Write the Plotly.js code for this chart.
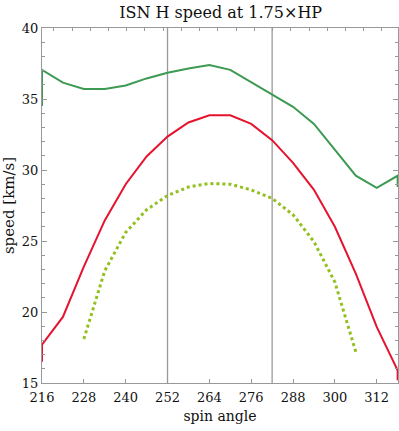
<!DOCTYPE html>
<html>
<head>
<meta charset="utf-8">
<script src="https://cdn.plot.ly/plotly-3.0.1.min.js"></script>
<style>html,body{margin:0;padding:0;background:#fff}#chart{width:399px;height:431px}</style>
</head>
<body>
<div id="chart"></div>
<script>
// spin angle samples (degrees)
const angle = [216,222,228,234,240,246,252,258,264,270,276,282,288,294,300,306,312,318];
// upper (green) speed curve, km/s
const speedUpper = [37.05,36.15,35.7,35.7,35.95,36.45,36.85,37.15,37.4,37.05,36.2,35.3,34.45,33.25,31.45,29.6,28.75,29.6];
// middle (red) speed curve, km/s
const speedMid = [17.7,19.65,23.2,26.45,29.0,30.95,32.35,33.35,33.85,33.85,33.25,32.1,30.5,28.6,26.0,22.7,18.95,15.9];
// lower (dotted) curve angles and speeds
const angleLow = [228,234,240,246,252,258,264,270,276,282,288,294,300,306];
const speedLow = [18.1,22.9,25.6,27.2,28.2,28.8,29.05,29.0,28.6,28.0,26.85,24.95,22.1,17.2];
// values drawn at the frame edges (wrap-around segments)
const upperEdge = [34.5, 28.8];
const midEdge = [16.5, 15.2];
// vertical reference lines
const refAngles = [252, 282];
// tick labels
const xTicks = [216,228,240,252,264,276,288,300,312];
const yTicks = [15,20,25,30,35,40];

const FONT = 'DejaVu Serif, serif';
const x0 = angle[0], x1 = angle[angle.length-1];

const traces = [
  {x:[x0, ...angle, x1], y:[upperEdge[0], ...speedUpper, upperEdge[1]], mode:'lines',
   line:{color:'#3d9a52', width:2}, hoverinfo:'skip'},
  {x:[x0, ...angle, x1], y:[midEdge[0], ...speedMid, midEdge[1]], mode:'lines',
   line:{color:'#e5132e', width:2}, hoverinfo:'skip'},
  {x:angleLow, y:speedLow, mode:'lines',
   line:{color:'#92c01e', width:3, dash:'dot'}, hoverinfo:'skip'},
  {x:[0], y:[0], xaxis:'x2', yaxis:'y', mode:'markers', marker:{opacity:0}, hoverinfo:'skip'}
];

const shapes = refAngles.map(a => ({type:'line', xref:'x', yref:'paper', x0:a, x1:a, y0:0, y1:1,
  line:{color:'#999', width:1.3}, layer:'below'}));

const layout = {
  width:399, height:431,
  margin:{l:42, r:1, t:28, b:48},
  paper_bgcolor:'#fff', plot_bgcolor:'#fff',
  showlegend:false,
  font:{family:FONT, color:'#111', size:13},
  title:{text:'ISN H speed at 1.75×HP', font:{family:FONT, size:16, color:'#111'},
         x:0.553, xanchor:'center', xref:'container', y:1-12/431, yref:'container', yanchor:'middle'},
  xaxis:{range:[216,318.1], tickvals:xTicks, ticktext:xTicks.map(String), ticks:'inside', ticklen:4,
         tickcolor:'#999', tickwidth:1, showline:true, linecolor:'#999', linewidth:1, mirror:false,
         showgrid:false, zeroline:false, tickfont:{family:FONT, size:13, color:'#111'},
         ticklabelstandoff:2,
         title:{text:'spin angle', font:{family:FONT, size:14, color:'#111'}, standoff:7}},
  xaxis2:{overlaying:'x', side:'top', range:[-0.648,18.88], dtick:1, tick0:0, ticks:'inside', ticklen:3,
          tickcolor:'#999', showticklabels:false, showline:true, linecolor:'#999', linewidth:1,
          showgrid:false, zeroline:false},
  yaxis:{range:[15,40], tickvals:yTicks, ticktext:yTicks.map(String), ticks:'inside', ticklen:5,
         tickcolor:'#999', showline:true, linecolor:'#999', linewidth:1, mirror:'ticks',
         showgrid:false, zeroline:false, tickfont:{family:FONT, size:13, color:'#111'},
         minor:{dtick:1, ticks:'inside', ticklen:3, tickcolor:'#999', showgrid:false},
         title:{text:'speed [km/s]', font:{family:FONT, size:15, color:'#111'}, standoff:4}},
  shapes:shapes
};

Plotly.newPlot('chart', traces, layout, {staticPlot:true, displayModeBar:false});
</script>
</body>
</html>
